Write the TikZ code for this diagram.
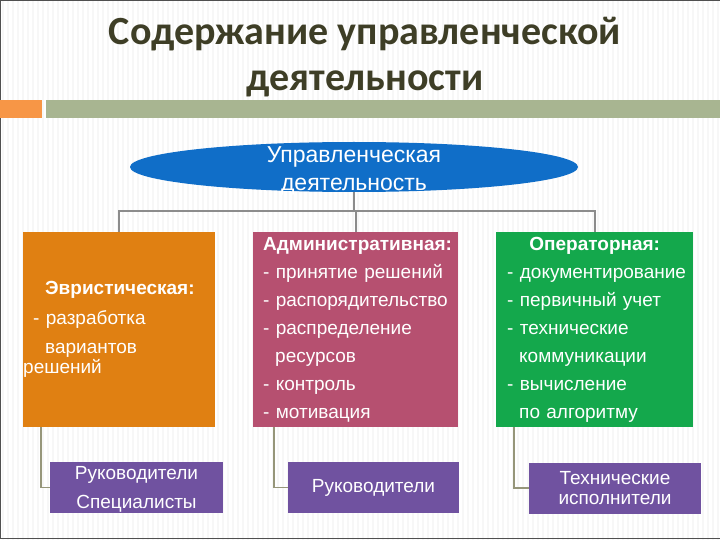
\documentclass[tikz,border=0pt]{standalone}
\usepackage{fontspec}
\setmainfont{Liberation Sans}
\newfontfamily\titlefont{Carlito}
\usetikzlibrary{shapes.geometric, positioning}
\definecolor{titleOlive}{RGB}{62,62,38}
\definecolor{barOrange}{RGB}{247,150,70}
\definecolor{barGreen}{RGB}{168,181,145}
\definecolor{ovalBlue}{RGB}{16,110,200}
\definecolor{heurOrange}{RGB}{224,128,18}
\definecolor{adminRose}{RGB}{182,80,112}
\definecolor{operGreen}{RGB}{20,168,76}
\definecolor{staffViolet}{RGB}{112,82,160}
\definecolor{linkGray}{RGB}{140,140,140}
\definecolor{linkOlive}{RGB}{150,150,122}
\definecolor{frameGray}{RGB}{80,80,80}

\tikzset{
  areabox/.style={rectangle, anchor=north west, minimum height=195pt, inner ysep=0pt,
    align=left, text=white, font=\fontsize{19}{28}\selectfont},
  staffbox/.style={rectangle, fill=staffViolet, minimum height=51pt, inner sep=0pt,
    align=center, text=white, font=\fontsize{19}{20}\selectfont},
  link/.style={draw=linkGray, line width=1.6pt},
  sublink/.style={draw=linkOlive, line width=1.6pt}
}

\begin{document}
\begin{tikzpicture}[x=1pt,y=-1pt]
  \useasboundingbox (0,0) rectangle (720,540);
  \fill[white] (0,0) rectangle (720,540);
  \foreach \x in {3,8,...,718}
    \draw[gray!6, line width=1.2pt] (\x,0) -- (\x,540);
  \draw[frameGray, line width=1.2pt] (720,0.5) -- (0.8,0.5) -- (0.8,538.5) -- (720,538.5);

  % title and bars
  \node[font=\titlefont\bfseries\fontsize{40}{46}\selectfont, text=titleOlive, align=center]
    (title) at (365,57) {Содержание управленческой\\деятельности};
  \fill[barOrange] (0,100) rectangle (42,118);
  \fill[barGreen] (46,100) rectangle (720,118);

  % root
  \node[ellipse, fill=ovalBlue, minimum width=448pt, minimum height=50pt, inner sep=0pt]
    (oval) at (354,167) {};
  \node[text=white, align=center, font=\fontsize{23}{28}\selectfont] (ovaltext) at (354,171)
    {Управленческая\\деятельность};

  % three kinds of activity
  \node[areabox, fill=heurOrange, text width=192pt, inner xsep=0pt, font=\fontsize{19}{20}\selectfont]
    (heur) at (23,232)
    {\hspace*{22pt}\textbf{Эвристическая:}\\[10pt]
     \hspace*{10pt}\mbox{- разработка}\\[9pt]
     \hspace*{22pt}вариантов\\
     решений};
  \node[areabox, fill=adminRose, text width=185pt, inner xsep=10pt] (admin) at (253,232)
    {\textbf{Административная:}\\
     \mbox{- принятие решений}\\
     \mbox{- распорядительство}\\
     \mbox{- распределение}\\
     \hspace*{12pt}ресурсов\\
     \mbox{- контроль}\\
     \mbox{- мотивация}};
  \node[areabox, fill=operGreen, text width=175pt, inner xsep=11pt] (oper) at (496,232)
    {\makebox[\hsize][c]{\textbf{Операторная:}}\\
     \mbox{- документирование}\\
     \mbox{- первичный учет}\\
     \mbox{- технические}\\
     \hspace*{12pt}коммуникации\\
     \mbox{- вычисление}\\
     \hspace*{12pt}\mbox{по алгоритму}};

  % who does it
  \node[staffbox, minimum width=173pt] (staff1) at (136.5,487.5)
    {\rule{0pt}{17pt}Руководители\\[9pt]Специалисты};
  \node[staffbox, minimum width=171pt] (staff2) at (373.5,487.5) {Руководители};
  \node[staffbox, minimum width=172pt] (staff3) at (615,488) {Технические\\исполнители};

  % connectors
  \coordinate (hub) at (354,211);
  \draw[link] (oval.south) -- (hub);
  \draw[link] (heur.north) |- (hub) -| (oper.north);
  \draw[link] (admin.north) -- (admin.north |- hub);
  \draw[sublink] ([xshift=18pt]heur.south west) |- (staff1.west);
  \draw[sublink] ([xshift=21pt]admin.south west) |- (staff2.west);
  \draw[sublink] ([xshift=18pt]oper.south west) |- (staff3.west);
\end{tikzpicture}
\end{document}
